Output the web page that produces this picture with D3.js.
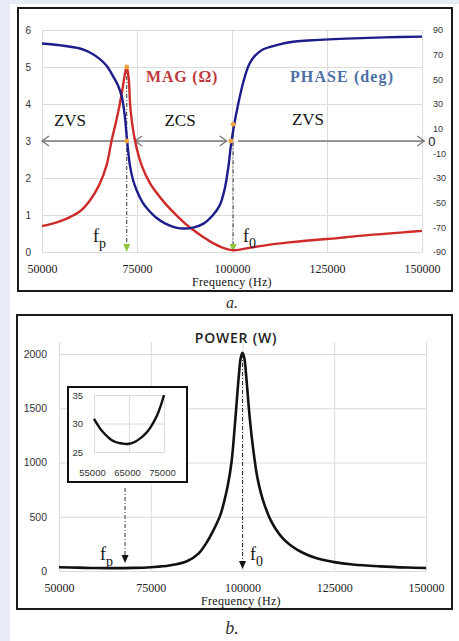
<!DOCTYPE html>
<html><head><meta charset="utf-8">
<script src="https://cdn.jsdelivr.net/npm/d3@7"></script>
<style>body{margin:0;background:#e8ecf6}svg{display:block}</style>
</head><body><svg width="459" height="641"></svg>
<script>
// impedance magnitude (ohm)
var magFreq = [50000,52500,55000,57500,60000,62500,65000,67000,68300,69800,71000,71800,72300,72800,73300,74500,76200,78400,80000,82500,85800,88000,90000,92500,95000,97500,100000,102500,105000,110000,115000,120000,125000,130000,135000,140000,145000,150000];
var magVals = [0.70,0.76,0.84,0.95,1.10,1.38,1.80,2.35,3.0,3.66,4.29,4.8,5.0,4.7,3.85,3.0,2.35,1.86,1.62,1.3,0.95,0.74,0.58,0.40,0.24,0.12,0.05,0.07,0.12,0.20,0.26,0.31,0.35,0.40,0.45,0.49,0.53,0.57];
// phase (deg)
var phaseFreq = [50000,55000,60000,62500,65000,67000,68800,70000,71000,71800,72400,73200,74000,74900,76500,78000,80000,82500,85000,87500,90000,92500,95000,96800,98000,99000,99700,100500,101500,103000,104500,106000,108000,112000,116000,120000,130000,140000,150000];
var phaseVals = [79,77.5,75,72,67,61,52,45,36,20,0,-21,-32,-40,-50,-56,-62,-67,-70,-71,-70,-67,-60,-52,-40,-22,-4,12,28,48,62,69,74,78,80.5,81.5,83,84,84.6];
// power (W)
var powerFreq = [50000,55000,60000,65000,70000,75000,80000,85000,88000,90000,92000,94000,95000,96000,97000,98000,99000,99500,100000,100500,101000,102000,103000,104000,105000,106000,107500,109000,111000,113000,116000,120000,125000,130000,137500,145000,150000];
var powerVals = [34,31,27,26.4,28.4,35,50,92,160,250,370,520,640,790,1000,1380,1800,1960,2010,1960,1800,1400,1100,870,720,610,480,390,300,240,175,120,82,60,43,32,27];
// inset: power zoomed between 55 and 75 kHz
var insetFreq = [55000,56000,57000,58000,59000,60000,61000,62000,63000,64000,65000,66000,67000,68000,69000,70000,71000,72000,73000,74000,75000];
var insetVals = [30.8,29.8,28.9,28.2,27.6,27.1,26.8,26.6,26.5,26.4,26.45,26.6,26.9,27.3,27.8,28.4,29.2,30.2,31.4,33,35];

var freqTicks = [50000,75000,100000,125000,150000];
var magTicks = [0,1,2,3,4,5,6];
var phaseTicks = [-90,-70,-50,-30,-10,10,30,50,70,90];
var powerTicks = [0,500,1000,1500,2000];
var insetXTicks = [55000,65000,75000];
var insetYTicks = [25,30,35];

var fpTop = 72300, f0Top = 100300, fpBot = 68000, f0Bot = 100000;

var svg = d3.select("svg");
var serif = "'Liberation Serif', 'Times New Roman', serif",
    sans = "'Liberation Sans', Arial, sans-serif";
var gridCol = "#dcdcdc";
var plain = function(d) { return String(d); };

svg.append("rect").attr("x", 10).attr("y", 4).attr("width", 449).attr("height", 637).attr("fill", "#fff");

// ---------- top chart ----------
var x = d3.scaleLinear().domain([50000,150000]).range([42,422]);
var yMag = d3.scaleLinear().domain([0,6]).range([252,30]);
var yPh = d3.scaleLinear().domain([-90,90]).range([252,30]);

svg.append("rect").attr("x",18).attr("y",8).attr("width",434).attr("height",283)
    .attr("fill","none").attr("stroke","#1a1a1a").attr("stroke-width",2);

var g = svg.append("g");

function styleGrid(sel) {
  sel.select(".domain").remove();
  sel.selectAll("line").attr("stroke", gridCol).attr("stroke-width", 1);
}
function styleAxis(sel, font, size, col) {
  sel.select(".domain").remove();
  sel.selectAll("text").attr("font-family", font).attr("font-size", size).attr("fill", col || "#333");
}

g.append("g").attr("transform","translate(42,0)")
  .call(d3.axisLeft(yMag).tickValues(magTicks).tickSize(-380).tickFormat(""))
  .call(styleGrid);
g.append("g").attr("transform","translate(0,252)")
  .call(d3.axisBottom(x).tickValues(freqTicks).tickSize(-222).tickFormat(""))
  .call(styleGrid);

g.append("g").attr("transform","translate(42,0)")
  .call(d3.axisLeft(yMag).tickValues(magTicks).tickSize(0).tickPadding(11).tickFormat(plain))
  .call(styleAxis, sans, 10, "#333");
g.append("g").attr("transform","translate(422,0)")
  .call(d3.axisRight(yPh).tickValues(phaseTicks).tickSize(0).tickPadding(11).tickFormat(plain))
  .call(styleAxis, sans, 9, "#333");
g.append("g").attr("transform","translate(0,252)")
  .call(d3.axisBottom(x).tickValues(freqTicks).tickSize(0).tickPadding(12).tickFormat(plain))
  .call(styleAxis, serif, 12, "#222");

g.append("text").attr("x",232).attr("y",286).attr("text-anchor","middle")
  .attr("font-family",serif).attr("font-size",12).attr("letter-spacing",0.3).attr("fill","#111")
  .text("Frequency (Hz)");
svg.append("text").attr("x",232).attr("y",308).attr("text-anchor","middle")
  .attr("font-family",serif).attr("font-style","italic").attr("font-size",16).attr("fill","#333").text("a.");

// zero-phase double arrows
var y3 = yMag(3), arrowCol = "#777";
function chevron(px, dir) {
  g.append("path").attr("d","M"+(px+dir*7)+","+(y3-5)+"L"+px+","+y3+"L"+(px+dir*7)+","+(y3+5))
    .attr("fill","none").attr("stroke",arrowCol).attr("stroke-width",1.3);
}
[[50000,fpTop],[74500,98600],[101600,150600]].forEach(function(s, i) {
  g.append("line").attr("x1",x(s[0])).attr("x2",x(s[1])).attr("y1",y3).attr("y2",y3)
    .attr("stroke",arrowCol).attr("stroke-width",1.3);
  if (i < 2) chevron(x(s[0]), 1);
  if (i > 0) chevron(x(s[1]), -1);
});
g.append("text").attr("x",x(150600)+4).attr("y",y3+5).attr("font-family",sans).attr("font-size",13)
  .attr("fill","#222").text("0");

// dash-dot markers with arrow tips
function dashDot(sel, fx, yFrom, yTo, col) {
  sel.append("line").attr("x1",fx).attr("x2",fx).attr("y1",yFrom).attr("y2",yTo-7)
    .attr("stroke","#333").attr("stroke-width",1).attr("stroke-dasharray","4,2,1,2");
  sel.append("path").attr("d","M"+(fx-3.5)+","+(yTo-8)+"L"+(fx+3.5)+","+(yTo-8)+"L"+fx+","+yTo+"Z")
    .attr("fill",col);
}
dashDot(g, x(fpTop), yMag(5), 252, "#8cc63e");
dashDot(g, x(f0Top), yMag(3.45), 252, "#8cc63e");

var line = d3.line().curve(d3.curveCatmullRom.alpha(0.5));
g.append("path").datum(magFreq.map(function(f,i){ return [x(f), yMag(magVals[i])]; }))
  .attr("d", line).attr("fill","none").attr("stroke","#cf2a2a").attr("stroke-width",2.4);
g.append("path").datum(phaseFreq.map(function(f,i){ return [x(f), yPh(phaseVals[i])]; }))
  .attr("d", line).attr("fill","none").attr("stroke","#1c1c8a").attr("stroke-width",2.4);

[[fpTop,5],[fpTop,3],[99700,3],[f0Top,3.45]].forEach(function(p) {
  g.append("circle").attr("cx",x(p[0])).attr("cy",yMag(p[1])).attr("r",2.4).attr("fill","#f2a23a");
});

function label(sel, tx, ty, txt, size, col, extra) {
  var t = sel.append("text").attr("x",tx).attr("y",ty).attr("font-family",serif)
    .attr("font-size",size).attr("fill",col).text(txt);
  if (extra) extra(t);
  return t;
}
label(g, 70, 126, "ZVS", 17, "#111", function(t){ t.attr("text-anchor","middle"); });
label(g, 180, 126, "ZCS", 17, "#111", function(t){ t.attr("text-anchor","middle"); });
label(g, 308, 125, "ZVS", 17, "#111", function(t){ t.attr("text-anchor","middle"); });
label(g, 146, 82, "MAG (Ω)", 16, "#c0393b", function(t){ t.attr("font-weight","bold").attr("letter-spacing",0.8); });
label(g, 290, 82, "PHASE (deg)", 16, "#4e6fa6", function(t){ t.attr("font-weight","bold").attr("letter-spacing",1.1); });

function fLabel(sel, tx, ty, sub) {
  var t = sel.append("text").attr("x",tx).attr("y",ty).attr("font-family",serif).attr("font-size",18).attr("fill","#111").text("f");
  t.append("tspan").attr("dy",6).attr("font-size",14).text(sub);
}
fLabel(g, 93, 242, "p");
fLabel(g, 243, 242, "0");

// ---------- bottom chart ----------
var xb = d3.scaleLinear().domain([50000,150000]).range([59,426]);
var yP = d3.scaleLinear().domain([0,2000]).range([571,354]);

svg.append("rect").attr("x",17).attr("y",315).attr("width",435).attr("height",294)
    .attr("fill","none").attr("stroke","#1a1a1a").attr("stroke-width",2);
var b = svg.append("g");

b.append("g").attr("transform","translate(59,0)")
  .call(d3.axisLeft(yP).tickValues(powerTicks).tickSize(-367).tickFormat(""))
  .call(styleGrid);
b.append("g").attr("transform","translate(0,571)")
  .call(d3.axisBottom(xb).tickValues(freqTicks).tickSize(-229).tickFormat(""))
  .call(styleGrid);
b.append("g").attr("transform","translate(59,0)")
  .call(d3.axisLeft(yP).tickValues(powerTicks).tickSize(0).tickPadding(12).tickFormat(plain))
  .call(styleAxis, sans, 10.5, "#333");
b.append("g").attr("transform","translate(0,571)")
  .call(d3.axisBottom(xb).tickValues(freqTicks).tickSize(0).tickPadding(12).tickFormat(plain))
  .call(styleAxis, serif, 12, "#222");

b.append("text").attr("x",241).attr("y",605).attr("text-anchor","middle")
  .attr("font-family",serif).attr("font-size",12).attr("letter-spacing",0.3).attr("fill","#111")
  .text("Frequency (Hz)");
svg.append("text").attr("x",232).attr("y",634).attr("text-anchor","middle")
  .attr("font-family",serif).attr("font-style","italic").attr("font-size",18).attr("fill","#333").text("b.");
b.append("text").attr("x",236).attr("y",343).attr("text-anchor","middle")
  .attr("font-family","'Open Sans', sans-serif").attr("font-size",14).attr("font-weight",600)
  .attr("letter-spacing",0.8).attr("fill","#222").text("POWER (W)");

b.append("path").datum(powerFreq.map(function(f,i){ return [xb(f), yP(powerVals[i])]; }))
  .attr("d", line).attr("fill","none").attr("stroke","#111").attr("stroke-width",2.6);

dashDot(b, xb(fpBot), 488, 563, "#111");
dashDot(b, xb(f0Bot), yP(2000), 569, "#111");
fLabel(b, 100, 560, "p");
fLabel(b, 250, 560, "0");

// inset
var xi = d3.scaleLinear().domain([55000,75000]).range([94,164]);
var yi = d3.scaleLinear().domain([25,35]).range([452,395]);
b.append("rect").attr("x",68).attr("y",387).attr("width",119).attr("height",95)
  .attr("fill","#fff").attr("stroke","#111").attr("stroke-width",2);
b.append("g").attr("transform","translate(94,0)")
  .call(d3.axisLeft(yi).tickValues(insetYTicks).tickSize(-70).tickFormat(""))
  .call(styleGrid);
b.append("g").attr("transform","translate(0,452)")
  .call(d3.axisBottom(xi).tickValues(insetXTicks).tickSize(-57).tickFormat(""))
  .call(styleGrid);
b.append("g").attr("transform","translate(94,0)")
  .call(d3.axisLeft(yi).tickValues(insetYTicks).tickSize(0).tickPadding(11).tickFormat(plain))
  .call(styleAxis, sans, 9.5, "#333");
b.append("g").attr("transform","translate(-2,452)")
  .call(d3.axisBottom(xi).tickValues(insetXTicks).tickSize(0).tickPadding(17).tickFormat(plain))
  .call(styleAxis, sans, 9.5, "#333");
b.append("path").datum(insetFreq.map(function(f,i){ return [xi(f), yi(insetVals[i])]; }))
  .attr("d", line).attr("fill","none").attr("stroke","#111").attr("stroke-width",2.4);
</script></body></html>
